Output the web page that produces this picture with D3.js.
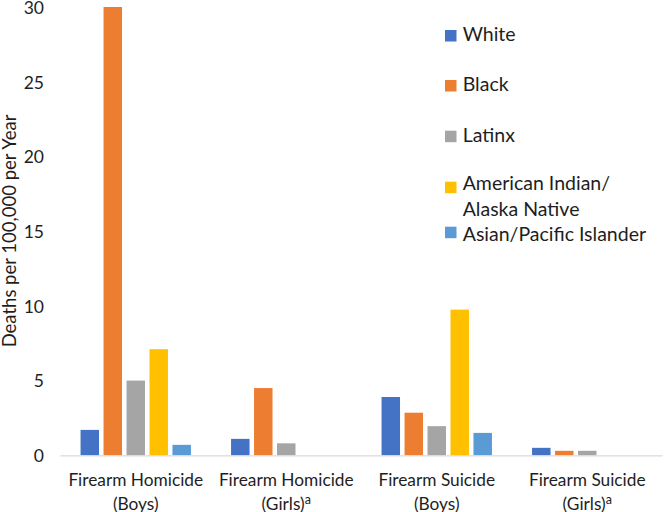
<!DOCTYPE html>
<html><head><meta charset="utf-8">
<script src="https://cdn.jsdelivr.net/npm/d3@7"></script>
<style>
html,body{margin:0;padding:0;background:#fff;}
text{font-family:Lato, "Open Sans", sans-serif;fill:#1e1e1e;}
</style></head>
<body><svg id="chart" width="664" height="512"></svg>
<script>
const categories = [["Firearm Homicide","(Boys)",""],["Firearm Homicide","(Girls)","a"],["Firearm Suicide","(Boys)",""],["Firearm Suicide","(Girls)","a"]];
const seriesNames = ["White","Black","Latinx","American Indian/ Alaska Native","Asian/Pacific Islander"];
const seriesColors = ["#4472c4","#ed7d31","#a5a5a5","#ffc000","#5b9bd5"];
const white  = [1.7, 1.1, 3.9, 0.5];
const black  = [30.0, 4.5, 2.85, 0.3];
const latinx = [5.0, 0.8, 1.95, 0.3];
const aian   = [7.1, 0, 9.75, 0];
const api    = [0.7, 0, 1.5, 0];
const yTicks = [0,5,10,15,20,25,30];

const values = [white, black, latinx, aian, api];
const svg = d3.select("#chart");
const x0 = d3.scaleBand().domain(d3.range(categories.length)).range([60.5,662.5]).paddingInner(0.2665).paddingOuter(0.13325);
const x1 = d3.scaleBand().domain(d3.range(seriesNames.length)).range([0,x0.bandwidth()]).paddingInner(0.196).paddingOuter(0);
const y = d3.scaleLinear().domain([0,30]).range([455.3,7]);

// bars
const g = svg.append("g");
categories.forEach((c,ci)=>{
  seriesNames.forEach((s,si)=>{
    const v = values[si][ci];
    if(!v) return;
    g.append("rect")
      .attr("x", x0(ci)+x1(si))
      .attr("y", y(v))
      .attr("width", x1.bandwidth())
      .attr("height", y(0)-y(v))
      .attr("fill", seriesColors[si]);
  });
});

// baseline
svg.append("line").attr("x1",60.5).attr("x2",662.5).attr("y1",y(0)+0.5).attr("y2",y(0)+0.5)
  .attr("stroke","#d9d9d9").attr("stroke-width",1.3);

// y axis
const yAxis = d3.axisLeft(y).tickValues(yTicks).tickSize(0).tickPadding(0);
const ya = svg.append("g").attr("transform","translate(44,0)").call(yAxis);
ya.select(".domain").remove();
ya.selectAll("text").attr("font-size",17.5).attr("font-family","Lato").attr("fill","#1e1e1e").attr("dy","0.36em");

// y title
svg.append("text").attr("transform","translate(15.5,231) rotate(-90)")
  .attr("text-anchor","middle").attr("font-size",18.5).text("Deaths per 100,000 per Year");

// x labels
categories.forEach((c,ci)=>{
  const cx = x0(ci)+x0.bandwidth()/2;
  svg.append("text").attr("x",cx).attr("y",485.7).attr("text-anchor","middle").attr("font-size",17.3).text(c[0]);
  const t = svg.append("text").attr("x",cx).attr("y",509.5).attr("text-anchor","middle").attr("font-size",17.3);
  t.append("tspan").text(c[1]);
  if(c[2]) t.append("tspan").attr("dy",-6).attr("font-size",12.5).text(c[2]);
});

// legend
const legTops = [30,80,130.7,181.7,226.7];
const legBase = [[41],[91],[141.5],[190,216],[240.7]];
seriesNames.forEach((s,si)=>{
  svg.append("rect").attr("x",445).attr("y",legTops[si]).attr("width",11.5).attr("height",11.5).attr("fill",seriesColors[si]);
  const lines = si===3 ? ["American Indian/","Alaska Native"] : [s];
  lines.forEach((l,li)=>{
    svg.append("text").attr("x",462.7).attr("y",legBase[si][li]).attr("font-size",19.5).text(l);
  });
});
</script></body></html>
